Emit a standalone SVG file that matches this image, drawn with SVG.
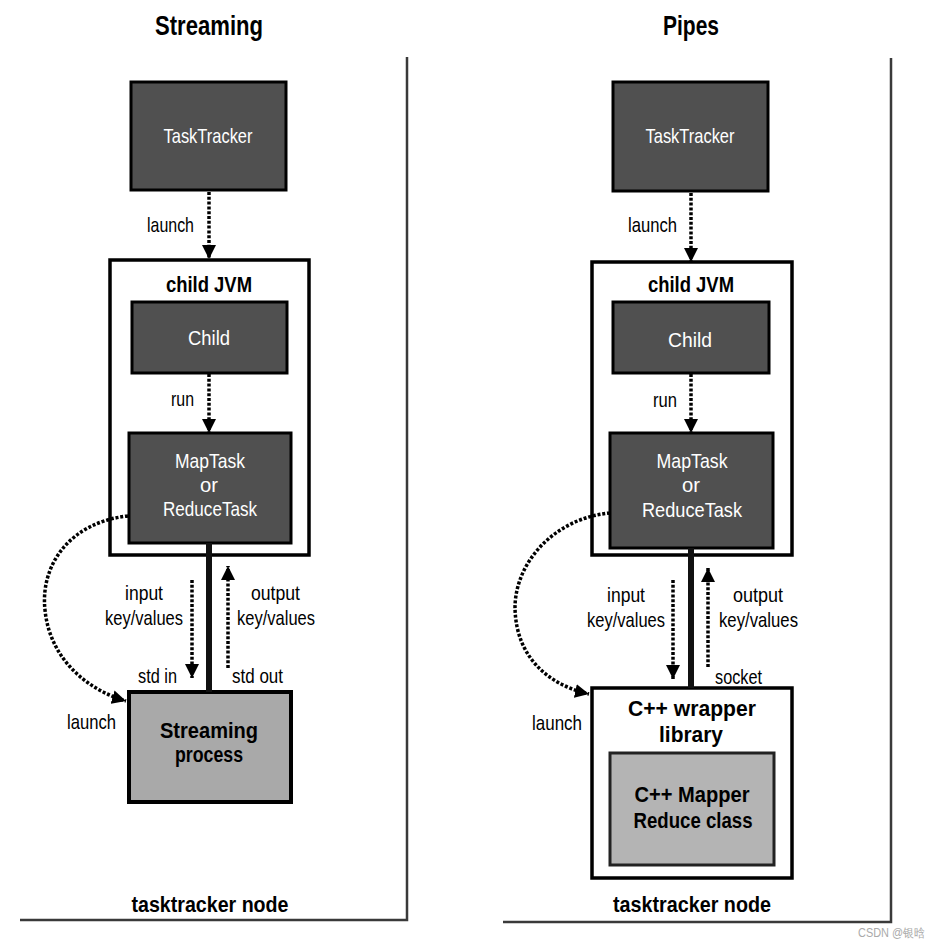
<svg xmlns="http://www.w3.org/2000/svg" width="941" height="948" viewBox="0 0 941 948">
<style>
text{font-family:"Liberation Sans",Arial,sans-serif;}
.title{font-size:28px;font-weight:bold;fill:#000;text-anchor:middle;}
.lbl{font-size:21px;fill:#000;}
.blbl{font-size:22px;font-weight:bold;fill:#000;text-anchor:middle;}
.wt{font-size:21px;fill:#fff;text-anchor:middle;}
.dark{fill:#505050;stroke:#000;stroke-width:3;}
.light{fill:#a9a9a9;stroke:#000;stroke-width:4;}
.frame{fill:#fff;stroke:#000;stroke-width:3.5;}
.inner{fill:#b4b4b4;stroke:#222;stroke-width:3;}
.dot{fill:none;stroke:#000;stroke-width:3.5;stroke-dasharray:3 1.8;}
.pipe{stroke:#111;stroke-width:6;}
.border{fill:none;stroke:#3a3a3a;stroke-width:2.5;}
</style>
<defs>
<marker id="ah" markerUnits="userSpaceOnUse" viewBox="0 0 14 14" refX="14" refY="7" markerWidth="14" markerHeight="14" orient="auto">
<path d="M0,0 L14,7 L0,14 z" fill="#000"/>
</marker>
</defs>
<rect width="941" height="948" fill="#fff"/>

<g id="streaming-panel">
<text class="title" x="209" y="35" textLength="108" lengthAdjust="spacingAndGlyphs">Streaming</text>
<path class="border" d="M407,57 L407,920 L20,920"/>
<text class="blbl" x="210" y="912" textLength="157" lengthAdjust="spacingAndGlyphs">tasktracker node</text>
</g>

<g id="pipes-panel">
<text class="title" x="691" y="35" textLength="56" lengthAdjust="spacingAndGlyphs">Pipes</text>
<path class="border" d="M891,58 L891,922 L503,922"/>
<text class="blbl" x="692" y="912" textLength="158" lengthAdjust="spacingAndGlyphs">tasktracker node</text>
</g>

<g id="s-tasktracker">
<rect class="dark" x="131" y="82" width="155" height="108"/>
<text class="wt" x="208" y="143" textLength="89" lengthAdjust="spacingAndGlyphs">TaskTracker</text>
</g>
<g id="s-childjvm">
<rect class="frame" x="110" y="260" width="199" height="295"/>
<text class="blbl" x="209" y="292" textLength="86" lengthAdjust="spacingAndGlyphs">child JVM</text>
</g>
<g id="s-child">
<rect class="dark" x="132" y="302" width="155" height="71"/>
<text class="wt" x="209" y="345" textLength="42" lengthAdjust="spacingAndGlyphs">Child</text>
</g>
<g id="s-maptask">
<rect class="dark" x="129" y="433" width="162" height="110"/>
<text class="wt" x="210" y="468" textLength="70" lengthAdjust="spacingAndGlyphs">MapTask</text>
<text class="wt" x="209" y="492" textLength="18" lengthAdjust="spacingAndGlyphs">or</text>
<text class="wt" x="210" y="516" textLength="94" lengthAdjust="spacingAndGlyphs">ReduceTask</text>
</g>
<g id="s-process">
<rect class="light" x="129" y="692" width="162" height="110"/>
<text class="blbl" x="209" y="738" fill="#111" font-size="19" textLength="98" lengthAdjust="spacingAndGlyphs">Streaming</text>
<text class="blbl" x="209" y="762" fill="#111" font-size="19" textLength="68" lengthAdjust="spacingAndGlyphs">process</text>
</g>

<g id="p-tasktracker">
<rect class="dark" x="613" y="82" width="155" height="109"/>
<text class="wt" x="690" y="143" textLength="89" lengthAdjust="spacingAndGlyphs">TaskTracker</text>
</g>
<g id="p-childjvm">
<rect class="frame" x="592" y="262" width="200" height="293"/>
<text class="blbl" x="691" y="292" textLength="86" lengthAdjust="spacingAndGlyphs">child JVM</text>
</g>
<g id="p-child">
<rect class="dark" x="613" y="302" width="156" height="71"/>
<text class="wt" x="690" y="347" textLength="44" lengthAdjust="spacingAndGlyphs">Child</text>
</g>
<g id="p-maptask">
<rect class="dark" x="610" y="433" width="163" height="115"/>
<text class="wt" x="692" y="468" textLength="71" lengthAdjust="spacingAndGlyphs">MapTask</text>
<text class="wt" x="691" y="492" textLength="18" lengthAdjust="spacingAndGlyphs">or</text>
<text class="wt" x="692" y="517" textLength="100" lengthAdjust="spacingAndGlyphs">ReduceTask</text>
</g>
<g id="p-wrapper">
<rect class="frame" x="592" y="688" width="200" height="190"/>
<text class="blbl" x="692" y="716" textLength="128" lengthAdjust="spacingAndGlyphs">C++ wrapper</text>
<text class="blbl" x="691" y="742" fill="#777" textLength="64" lengthAdjust="spacingAndGlyphs">library</text>
</g>
<g id="p-mapper">
<rect class="inner" x="610" y="753" width="164" height="112"/>
<text class="blbl" x="692" y="802" fill="#555" textLength="115" lengthAdjust="spacingAndGlyphs">C++ Mapper</text>
<text class="blbl" x="693" y="828" fill="#555" textLength="119" lengthAdjust="spacingAndGlyphs">Reduce class</text>
</g>

<g id="connectors">
<line class="pipe" x1="209" y1="543" x2="209" y2="692"/>
<line class="pipe" x1="691" y1="548" x2="691" y2="688"/>
<path class="dot" d="M209,192 L209,259" marker-end="url(#ah)"/>
<path class="dot" d="M209,374 L209,433" marker-end="url(#ah)"/>
<path class="dot" d="M192,580 L192,678" marker-end="url(#ah)"/>
<path class="dot" d="M228,668 L228,566" marker-end="url(#ah)"/>
<path class="dot" d="M128,516 C70,522 40,565 45,610 C50,660 88,690 126,701" marker-end="url(#ah)"/>
<path class="dot" d="M691,193 L691,262" marker-end="url(#ah)"/>
<path class="dot" d="M691,374 L691,433" marker-end="url(#ah)"/>
<path class="dot" d="M673,580 L673,679" marker-end="url(#ah)"/>
<path class="dot" d="M708,667 L708,568" marker-end="url(#ah)"/>
<path class="dot" d="M610,513 C555,518 515,562 515,608 C516,660 552,686 589,694" marker-end="url(#ah)"/>
</g>

<g id="labels">
<text class="lbl" x="147" y="232" textLength="47" lengthAdjust="spacingAndGlyphs">launch</text>
<text class="lbl" x="171" y="406" textLength="23" lengthAdjust="spacingAndGlyphs">run</text>
<text class="lbl" x="125" y="600" textLength="38" lengthAdjust="spacingAndGlyphs">input</text>
<text class="lbl" x="105" y="625" textLength="78" lengthAdjust="spacingAndGlyphs">key/values</text>
<text class="lbl" x="251" y="600" textLength="49" lengthAdjust="spacingAndGlyphs">output</text>
<text class="lbl" x="237" y="625" textLength="78" lengthAdjust="spacingAndGlyphs">key/values</text>
<text class="lbl" x="138" y="683" textLength="39" lengthAdjust="spacingAndGlyphs">std in</text>
<text class="lbl" x="232" y="683" textLength="51" lengthAdjust="spacingAndGlyphs">std out</text>
<text class="lbl" x="67" y="729" textLength="49" lengthAdjust="spacingAndGlyphs">launch</text>

<text class="lbl" x="628" y="232" textLength="49" lengthAdjust="spacingAndGlyphs">launch</text>
<text class="lbl" x="653" y="407" textLength="24" lengthAdjust="spacingAndGlyphs">run</text>
<text class="lbl" x="607" y="602" textLength="38" lengthAdjust="spacingAndGlyphs">input</text>
<text class="lbl" x="587" y="627" textLength="78" lengthAdjust="spacingAndGlyphs">key/values</text>
<text class="lbl" x="733" y="602" textLength="50" lengthAdjust="spacingAndGlyphs">output</text>
<text class="lbl" x="719" y="627" textLength="79" lengthAdjust="spacingAndGlyphs">key/values</text>
<text class="lbl" x="715" y="684" textLength="47" lengthAdjust="spacingAndGlyphs">socket</text>
<text class="lbl" x="532" y="730" textLength="50" lengthAdjust="spacingAndGlyphs">launch</text>
</g>

<text x="858" y="937" font-size="12" fill="#aaa" font-family="'Liberation Sans','Noto Sans CJK SC',sans-serif" textLength="67" lengthAdjust="spacingAndGlyphs">CSDN @银晗</text>
</svg>
